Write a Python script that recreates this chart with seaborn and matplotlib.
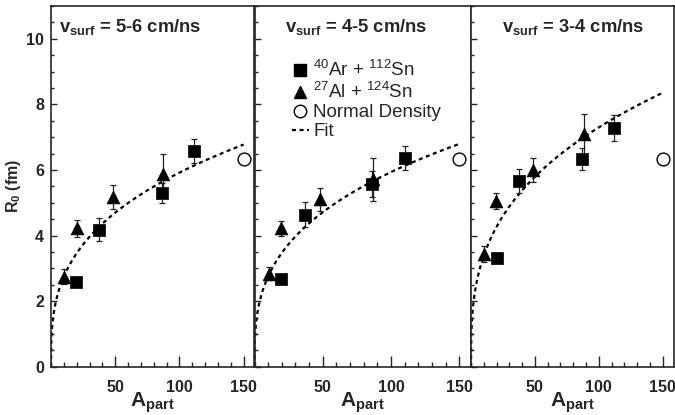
import numpy as np
import pandas as pd
import matplotlib
matplotlib.use("Agg")
import matplotlib.pyplot as plt
import seaborn as sns
from matplotlib.ticker import FixedLocator, MultipleLocator
from matplotlib.lines import Line2D

# ---------------- data ----------------
panel_labels = ["5-6", "4-5", "3-4"]

ar_A = [[19.5, 37.0, 86.5, 111.0], [19.7, 36.7, 86.0, 110.0], [20.0, 37.2, 87.2, 112.0]]
ar_R = [[2.57, 4.18, 5.30, 6.57], [2.67, 4.64, 5.56, 6.37], [3.33, 5.66, 6.34, 7.29]]
ar_err = [[0.10, 0.36, 0.30, 0.37], [0.10, 0.37, 0.40, 0.37], [0.10, 0.36, 0.34, 0.40]]

al_A = [[10.4, 20.0, 48.0, 87.0], [10.7, 19.7, 47.7, 87.0], [10.4, 19.5, 48.7, 88.5]]
al_R = [[2.75, 4.22, 5.18, 5.89], [2.83, 4.22, 5.10, 5.71], [3.44, 5.05, 5.99, 7.09]]
al_err = [[0.22, 0.25, 0.37, 0.60], [0.20, 0.22, 0.36, 0.65], [0.25, 0.25, 0.37, 0.63]]

nd_A = [150.0]
nd_R = [6.34]

fit_r0 = [1.275, 1.279, 1.572]   # R0 = r0 * A^(1/3)
fit_A_max = 150.0

x_ticks = [50, 100, 150]
y_ticks = [0, 2, 4, 6, 8, 10]

label_ar = r"$^{40}$Ar + $^{112}$Sn"
label_al = r"$^{27}$Al + $^{124}$Sn"
label_nd = "Normal Density"
label_fit = "Fit"

# ---------------- style ----------------
sns.set_style("ticks")
plt.rcParams["font.family"] = ["Liberation Sans", "DejaVu Sans"]
plt.rcParams["mathtext.fontset"] = "custom"
plt.rcParams["mathtext.rm"] = "Liberation Sans"
plt.rcParams["mathtext.it"] = "Liberation Sans:italic"
plt.rcParams["mathtext.bf"] = "Liberation Sans:bold"
plt.rcParams["axes.linewidth"] = 1.2

rows = []
for p, lab in enumerate(panel_labels):
    for a, r, e in zip(ar_A[p], ar_R[p], ar_err[p]):
        rows.append(dict(panel=lab, system="Ar", A=a, R=r, err=e))
    for a, r, e in zip(al_A[p], al_R[p], al_err[p]):
        rows.append(dict(panel=lab, system="Al", A=a, R=r, err=e))
df = pd.DataFrame(rows)

fig = plt.figure(figsize=(6.75, 4.15), dpi=100)
W, H = 675.0, 415.0
bottom = (H - 366.7) / H
height = (366.7 - 6.0) / H
lefts = [51.0, 254.5, 471.0]
widths = [203.5, 216.5, 202.5]
title_x = [0.041, 0.139, 0.153]

axes = []
for p, lab in enumerate(panel_labels):
    ax = fig.add_axes([lefts[p] / W, bottom, widths[p] / W, height])
    axes.append(ax)
    sub = df[df.panel == lab]

    for sysname in ["Ar", "Al"]:
        s = sub[sub.system == sysname]
        ax.errorbar(s.A, s.R, yerr=s.err, fmt="none", ecolor="#222222",
                    elinewidth=0.9, capsize=2.0, capthick=0.9, zorder=2)

    Agrid = np.linspace(0, fit_A_max, 600)
    sns.lineplot(x=Agrid, y=fit_r0[p] * Agrid ** (1.0 / 3.0), ax=ax, color="black",
                 linewidth=1.6, linestyle=(0, (1.8, 1.6)), zorder=1)

    sns.scatterplot(data=sub[sub.system == "Ar"], x="A", y="R", marker="s", s=72,
                    color="black", edgecolor="black", linewidth=0.5, ax=ax, zorder=3)
    sns.scatterplot(data=sub[sub.system == "Al"], x="A", y="R", marker="^", s=85,
                    color="black", edgecolor="black", linewidth=0.5, ax=ax, zorder=3)
    sns.scatterplot(x=nd_A, y=nd_R, marker="o", s=85, facecolor="white",
                    edgecolor="black", linewidth=1.0, ax=ax, zorder=3)

    ax.set_xlim(0, 158.5)
    ax.set_ylim(0, 11)
    ax.xaxis.set_major_locator(FixedLocator(x_ticks))
    ax.xaxis.set_minor_locator(MultipleLocator(10))
    ax.yaxis.set_major_locator(FixedLocator(y_ticks))
    ax.yaxis.set_minor_locator(MultipleLocator(0.5))
    ax.tick_params(axis="x", which="major", direction="in", length=8, width=1.0,
                   pad=9.5, labelsize=11.5)
    ax.tick_params(axis="x", which="minor", direction="in", length=3.5, width=1.0)
    ax.tick_params(axis="y", which="major", direction="in", length=4.5, width=1.0,
                   pad=5, labelsize=11.5)
    ax.tick_params(axis="y", which="minor", direction="in", length=2.2, width=1.0)
    for t in ax.get_xticklabels() + ax.get_yticklabels():
        t.set_fontweight("bold")
    if p > 0:
        ax.tick_params(axis="y", which="both", labelleft=False)
        ax.set_ylabel("")
    else:
        ax.set_ylabel(r"R$_{\mathbf{0}}$ (fm)", fontsize=11.5, fontweight="bold", labelpad=2)
    ax.set_xlabel(r"$\mathbf{A_{part}}$", fontsize=15, labelpad=-3)

    ax.text(title_x[p], 0.928, r"$\mathbf{v_{surf}}$ = " + lab + " cm/ns",
            transform=ax.transAxes, fontsize=13.2, fontweight="bold",
            ha="left", va="baseline")

handles = [
    Line2D([], [], marker="s", color="black", linestyle="none", markersize=8.5),
    Line2D([], [], marker="^", color="black", linestyle="none", markersize=8.5),
    Line2D([], [], marker="o", markerfacecolor="white", markeredgecolor="black",
           linestyle="none", markersize=9),
    Line2D([], [], color="black", linestyle=(0, (1.8, 1.6)), linewidth=1.6),
]
axes[1].legend(handles, [label_ar, label_al, label_nd, label_fit],
               loc="upper left", bbox_to_anchor=(0.172, 0.85), frameon=False,
               fontsize=13.5, handlelength=0.9, handletextpad=0.25, labelspacing=0.1,
               borderpad=0, borderaxespad=0)

fig.savefig("out.png", dpi=100)
